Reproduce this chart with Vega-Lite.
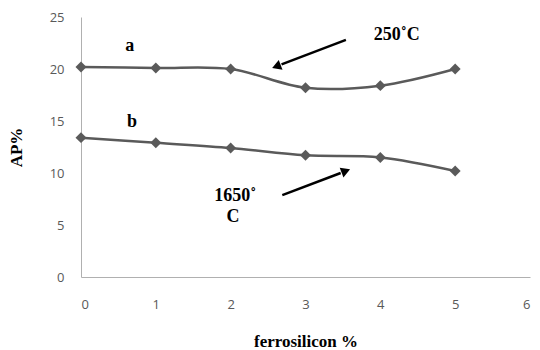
{
  "$schema": "https://vega.github.io/schema/vega-lite/v6.json",
  "width": 449,
  "height": 260,
  "autosize": {"type": "none"},
  "padding": {"left": 81, "top": 17, "right": 10, "bottom": 73},
  "background": "white",
  "config": {
    "view": {"stroke": null},
    "axis": {
      "grid": false,
      "ticks": false,
      "domainColor": "#b0b0b0",
      "domainWidth": 1,
      "labelFont": "Open Sans",
      "labelFontSize": 13,
      "labelColor": "#595959",
      "labelOverlap": false,
      "titleFont": "Liberation Serif",
      "titleFontWeight": "bold",
      "titleFontSize": 17,
      "titleColor": "#000000"
    }
  },
  "datasets": {
    "series": [
      {"ferrosilicon": 0, "AP": 20.2, "curve": "a"},
      {"ferrosilicon": 1, "AP": 20.1, "curve": "a"},
      {"ferrosilicon": 2, "AP": 20.0, "curve": "a"},
      {"ferrosilicon": 3, "AP": 18.2, "curve": "a"},
      {"ferrosilicon": 4, "AP": 18.4, "curve": "a"},
      {"ferrosilicon": 5, "AP": 20.0, "curve": "a"},
      {"ferrosilicon": 0, "AP": 13.4, "curve": "b"},
      {"ferrosilicon": 1, "AP": 12.9, "curve": "b"},
      {"ferrosilicon": 2, "AP": 12.4, "curve": "b"},
      {"ferrosilicon": 3, "AP": 11.7, "curve": "b"},
      {"ferrosilicon": 4, "AP": 11.5, "curve": "b"},
      {"ferrosilicon": 5, "AP": 10.2, "curve": "b"}
    ],
    "labels": [
      {"x": 0.65, "y": 22.2, "text": "a"},
      {"x": 0.68, "y": 14.9, "text": "b"},
      {"x": 4.22, "y": 23.3, "text": "250˚C"},
      {"x": 2.06, "y": 7.8, "text": "1650˚"},
      {"x": 2.03, "y": 5.8, "text": "C"}
    ],
    "arrows": [
      {"x": 3.54, "y": 22.8, "x2": 2.68, "y2": 20.45, "id": "hot"},
      {"x": 2.69, "y": 7.88, "x2": 3.47, "y2": 10.0, "id": "cold"}
    ],
    "heads": [
      {"x": 2.63, "y": 20.3, "id": "hot"},
      {"x": 3.52, "y": 10.15, "id": "cold"}
    ]
  },
  "layer": [
    {
      "data": {"name": "series"},
      "mark": {"type": "line", "interpolate": "catmull-rom", "color": "#5a5a5a", "strokeWidth": 2.5},
      "encoding": {
        "x": {"field": "ferrosilicon", "type": "quantitative", "scale": {"domain": [0, 6], "nice": false},
              "axis": {"title": "ferrosilicon %", "values": [0,1,2,3,4,5,6], "format": "d", "labelPadding": 21, "titlePadding": 22}},
        "y": {"field": "AP", "type": "quantitative", "scale": {"domain": [0, 25], "nice": false},
              "axis": {"title": "AP%", "values": [0,5,10,15,20,25], "format": "d", "labelPadding": 17, "titlePadding": 24}},
        "detail": {"field": "curve"}
      }
    },
    {
      "data": {"name": "series"},
      "mark": {"type": "point", "shape": "diamond", "filled": true, "size": 120, "color": "#5a5a5a", "opacity": 1},
      "encoding": {
        "x": {"field": "ferrosilicon", "type": "quantitative"},
        "y": {"field": "AP", "type": "quantitative"}
      }
    },
    {
      "data": {"name": "labels"},
      "mark": {"type": "text", "font": "Liberation Serif", "fontWeight": "bold", "fontSize": 18, "color": "#000000", "align": "center", "baseline": "middle"},
      "encoding": {
        "x": {"field": "x", "type": "quantitative"},
        "y": {"field": "y", "type": "quantitative"},
        "text": {"field": "text"}
      }
    },
    {
      "data": {"name": "arrows"},
      "mark": {"type": "rule", "color": "#000000", "strokeWidth": 2.5},
      "encoding": {
        "x": {"field": "x", "type": "quantitative"},
        "y": {"field": "y", "type": "quantitative"},
        "x2": {"field": "x2"},
        "y2": {"field": "y2"}
      }
    },
    {
      "data": {"name": "heads"},
      "transform": [{"filter": "datum.id === 'hot'"}],
      "mark": {"type": "point", "shape": "triangle", "filled": true, "size": 110, "color": "#000000", "opacity": 1, "angle": 249},
      "encoding": {
        "x": {"field": "x", "type": "quantitative"},
        "y": {"field": "y", "type": "quantitative"}
      }
    },
    {
      "data": {"name": "heads"},
      "transform": [{"filter": "datum.id === 'cold'"}],
      "mark": {"type": "point", "shape": "triangle", "filled": true, "size": 110, "color": "#000000", "opacity": 1, "angle": 69},
      "encoding": {
        "x": {"field": "x", "type": "quantitative"},
        "y": {"field": "y", "type": "quantitative"}
      }
    }
  ]
}
